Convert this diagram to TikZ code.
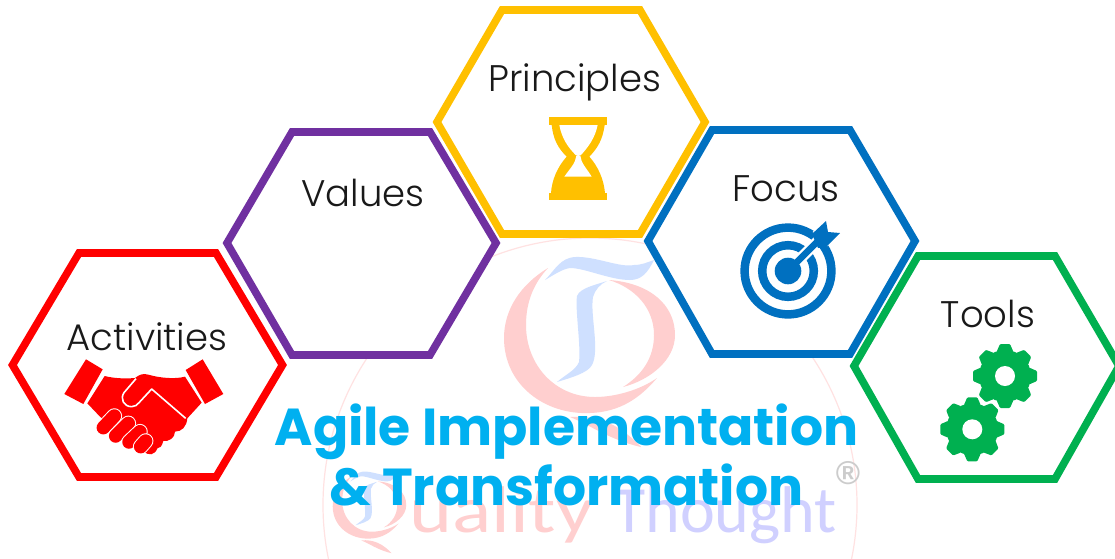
\documentclass[tikz,border=0pt]{standalone}
\usepackage{fontspec}
\setmainfont{Poppins}
\newfontfamily\hexfont{Poppins}[UprightFont=* Light]
\newfontfamily\markfont{Carlito}
\newfontfamily\regfont{Liberation Sans}
\definecolor{hred}{HTML}{FF0000}
\definecolor{hpurple}{HTML}{7030A0}
\definecolor{hyellow}{HTML}{FFC000}
\definecolor{hblue}{HTML}{0070C0}
\definecolor{hgreen}{HTML}{00B050}
\definecolor{titleblue}{HTML}{00B0F0}
\definecolor{wmred}{HTML}{FFCFCF}
\definecolor{wmblue}{HTML}{CFE0FF}
\definecolor{wmlav}{HTML}{D0D0FF}
\tikzset{
  hexa/.style={draw=#1,line width=7.6pt,fill=white,miter limit=10},
  hexlabel/.style={font=\hexfont\fontsize{37}{37}\selectfont,anchor=base,inner sep=0pt,text=black!90},
  titleline/.style={font=\bfseries\fontsize{52}{52}\selectfont,anchor=base,inner sep=0pt,text=titleblue},
  logo/.pic={
    \fill[wmred] (548,268) .. controls (520,285) and (504,310) .. (504,338)
      .. controls (504,385) and (545,415) .. (590,413)
      .. controls (620,412) and (640,398) .. (657,378)
      .. controls (640,390) and (615,397) .. (595,397)
      .. controls (555,397) and (526,365) .. (526,325)
      .. controls (526,300) and (535,282) .. (548,268) -- cycle;
    \fill[wmred] (609,280) .. controls (650,283) and (675,305) .. (675,335)
      .. controls (675,360) and (650,380) .. (623,387)
      .. controls (642,375) and (654,358) .. (654,335)
      .. controls (654,308) and (635,288) .. (609,280) -- cycle;
    \fill[wmred] (570,417) .. controls (600,415) and (620,425) .. (641,447)
      .. controls (610,440) and (590,425) .. (570,417) -- cycle;
    \fill[wmblue] (545,280) .. controls (555,270) and (560,258) .. (575,257)
      .. controls (595,256) and (620,268) .. (634,265)
      .. controls (642,265) and (648,262) .. (654,260)
      .. controls (648,272) and (642,280) .. (630,280)
      .. controls (610,280) and (585,268) .. (570,268)
      .. controls (562,269) and (552,276) .. (545,280) -- cycle;
    \fill[wmblue] (607,281) .. controls (595,285) and (580,288) .. (577,296)
      .. controls (575,310) and (581,345) .. (579,362)
      .. controls (576,370) and (565,375) .. (557,382)
      .. controls (570,378) and (588,373) .. (592,365)
      .. controls (600,350) and (590,315) .. (593,297)
      .. controls (595,290) and (600,284) .. (607,281) -- cycle;
  }
}
\begin{document}
\begin{tikzpicture}[x=1pt,y=-1pt]
\useasboundingbox (0,0) rectangle (1115,558);
\fill[white] (0,0) rectangle (1115,558);
% watermark
\draw[wmred!60,line width=1.2pt] (590,505) circle (267);
\pic at (0,0) {logo};
\pic[scale=0.43] at (116,361) {logo};
\node[font=\markfont\fontsize{66}{66}\selectfont,text=wmred,anchor=base west,inner sep=0pt,xscale=1.24,transform shape] (quality) at (409,532) {uality};
\node[font=\markfont\fontsize{66}{66}\selectfont,text=wmlav,anchor=base west,inner sep=0pt] (thought) at (613,532) {Thought};
\node[font=\regfont\bfseries\fontsize{33}{33}\selectfont,text=black!20,inner sep=0pt] (reg) at (848,473) {®};
% hexagons
\draw[hexa=hred] (12.5,365) -- (79,253) -- (216,253) -- (282.5,365) -- (216,477) -- (79,477) -- cycle;
\draw[hexa=hpurple] (227,243) -- (292,132) -- (430,132) -- (496,243) -- (430,355) -- (292,355) -- cycle;
\draw[hexa=hyellow] (437,122) -- (502,10) -- (640,10) -- (705,122) -- (640,234) -- (502,234) -- cycle;
\draw[hexa=hblue] (648,241) -- (712,130) -- (850,130) -- (915,241) -- (850,354) -- (712,354) -- cycle;
\draw[hexa=hgreen] (854,366) -- (918,256) -- (1055,256) -- (1119,366) -- (1055,479) -- (918,479) -- cycle;
% labels
\node[hexlabel] (principles) at (575,91) {Principles};
\node[hexlabel] (values) at (363,206) {Values};
\node[hexlabel] (focus) at (786,201) {Focus};
\node[hexlabel] (tools) at (988,327) {Tools};
\node[hexlabel] (activities) at (147,350) {Activities};
% hourglass
\begin{scope}[shift={(535,105)},scale=1/3]
\fill[hyellow] (42,37) rectangle (217,60);
\fill[hyellow] (42,265) rectangle (217,285);
\fill[hyellow] (50,60) .. controls (55,105) and (70,130) .. (95,155)
  .. controls (68,185) and (50,225) .. (48,265) -- (210,265)
  .. controls (207,225) and (190,185) .. (163,155)
  .. controls (187,130) and (203,105) .. (209,60) -- cycle;
\fill[white] (73,60) .. controls (80,100) and (100,128) .. (122,150)
  .. controls (125,154) and (133,154) .. (138,150)
  .. controls (158,128) and (180,100) .. (188,60) -- cycle;
\fill[white] (88,215) .. controls (105,190) and (122,175) .. (124,152)
  -- (136,152) .. controls (138,175) and (155,190) .. (170,215) -- cycle;
\end{scope}
% target
\begin{scope}[shift={(788,271)}]
\fill[hblue] (0,0) circle (13.3);
\draw[hblue,line width=8.5pt] (0,0) circle (25.8);
\draw[hblue,line width=8.5pt] (0,0) circle (43.4);
\draw[white,line width=11pt] (10,-10) -- (48,-48);
\draw[white,line width=9pt] (28,-36) -- (48,-58);
\draw[white,line width=9pt] (36,-28) -- (58,-48);
\draw[hblue,line width=6.5pt] (0,0) -- (32,-32);
\fill[hblue] (24,-37) -- (38,-50) -- (40,-39) -- (52,-38) -- (38,-24) -- (30,-23) -- cycle;
\end{scope}
% gears
\foreach \cx/\cy/\rot in {1005/376/0,972.3/429.3/0}{
  \begin{scope}[shift={(\cx,\cy)},rotate=\rot]
  \fill[hgreen] (0,0) circle (26);
  \foreach \a in {0,45,...,315}{
    \fill[hgreen,rotate=\a,rounded corners=1pt] (-8.5,-24) -- (-5,-32) -- (5,-32) -- (8.5,-24) -- cycle;
  }
  \fill[white] (0,0) circle (10);
  \end{scope}
}
% handshake
\begin{scope}[shift={(0,240)},scale=1/3]
\fill[hred] (258,358) -- (308,388) -- (250,492) -- (193,462) -- cycle;
\fill[hred] (608,358) -- (557,390) -- (615,492) -- (670,462) -- cycle;
\fill[hred] (314,408) .. controls (345,416) and (380,416) .. (405,414)
  .. controls (420,402) and (430,400) .. (445,404)
  .. controls (480,414) and (525,418) .. (555,410)
  -- (605,488) -- (562,535)
  .. controls (560,560) and (545,575) .. (525,575)
  .. controls (525,595) and (505,605) .. (490,603)
  .. controls (485,620) and (480,625) .. (472,625)
  .. controls (465,645) and (445,650) .. (430,632)
  -- (300,530) -- (262,490) -- cycle;
\draw[white,line width=1.6pt,line join=round] (408,416) -- (372,458)
  .. controls (360,475) and (370,500) .. (395,500)
  .. controls (405,500) and (412,495) .. (418,487) -- (455,447) -- (557,535);
\foreach \xa/\ya/\xb/\yb in {310/563/343/528,347/588/385/550,387/606/420/575,422/620/437/603}{
  \draw[white,line width=15.5pt,line cap=round] (\xa,\ya) -- (\xb,\yb);
  \draw[hred,line width=13.5pt,line cap=round] (\xa,\ya) -- (\xb,\yb);
}
\end{scope}
% title
\node[titleline] (title1) at (566.5,445) {Agile Implementation};
\node[titleline] (title2) at (566.5,505) {\& Transformation};
\end{tikzpicture}
\end{document}
